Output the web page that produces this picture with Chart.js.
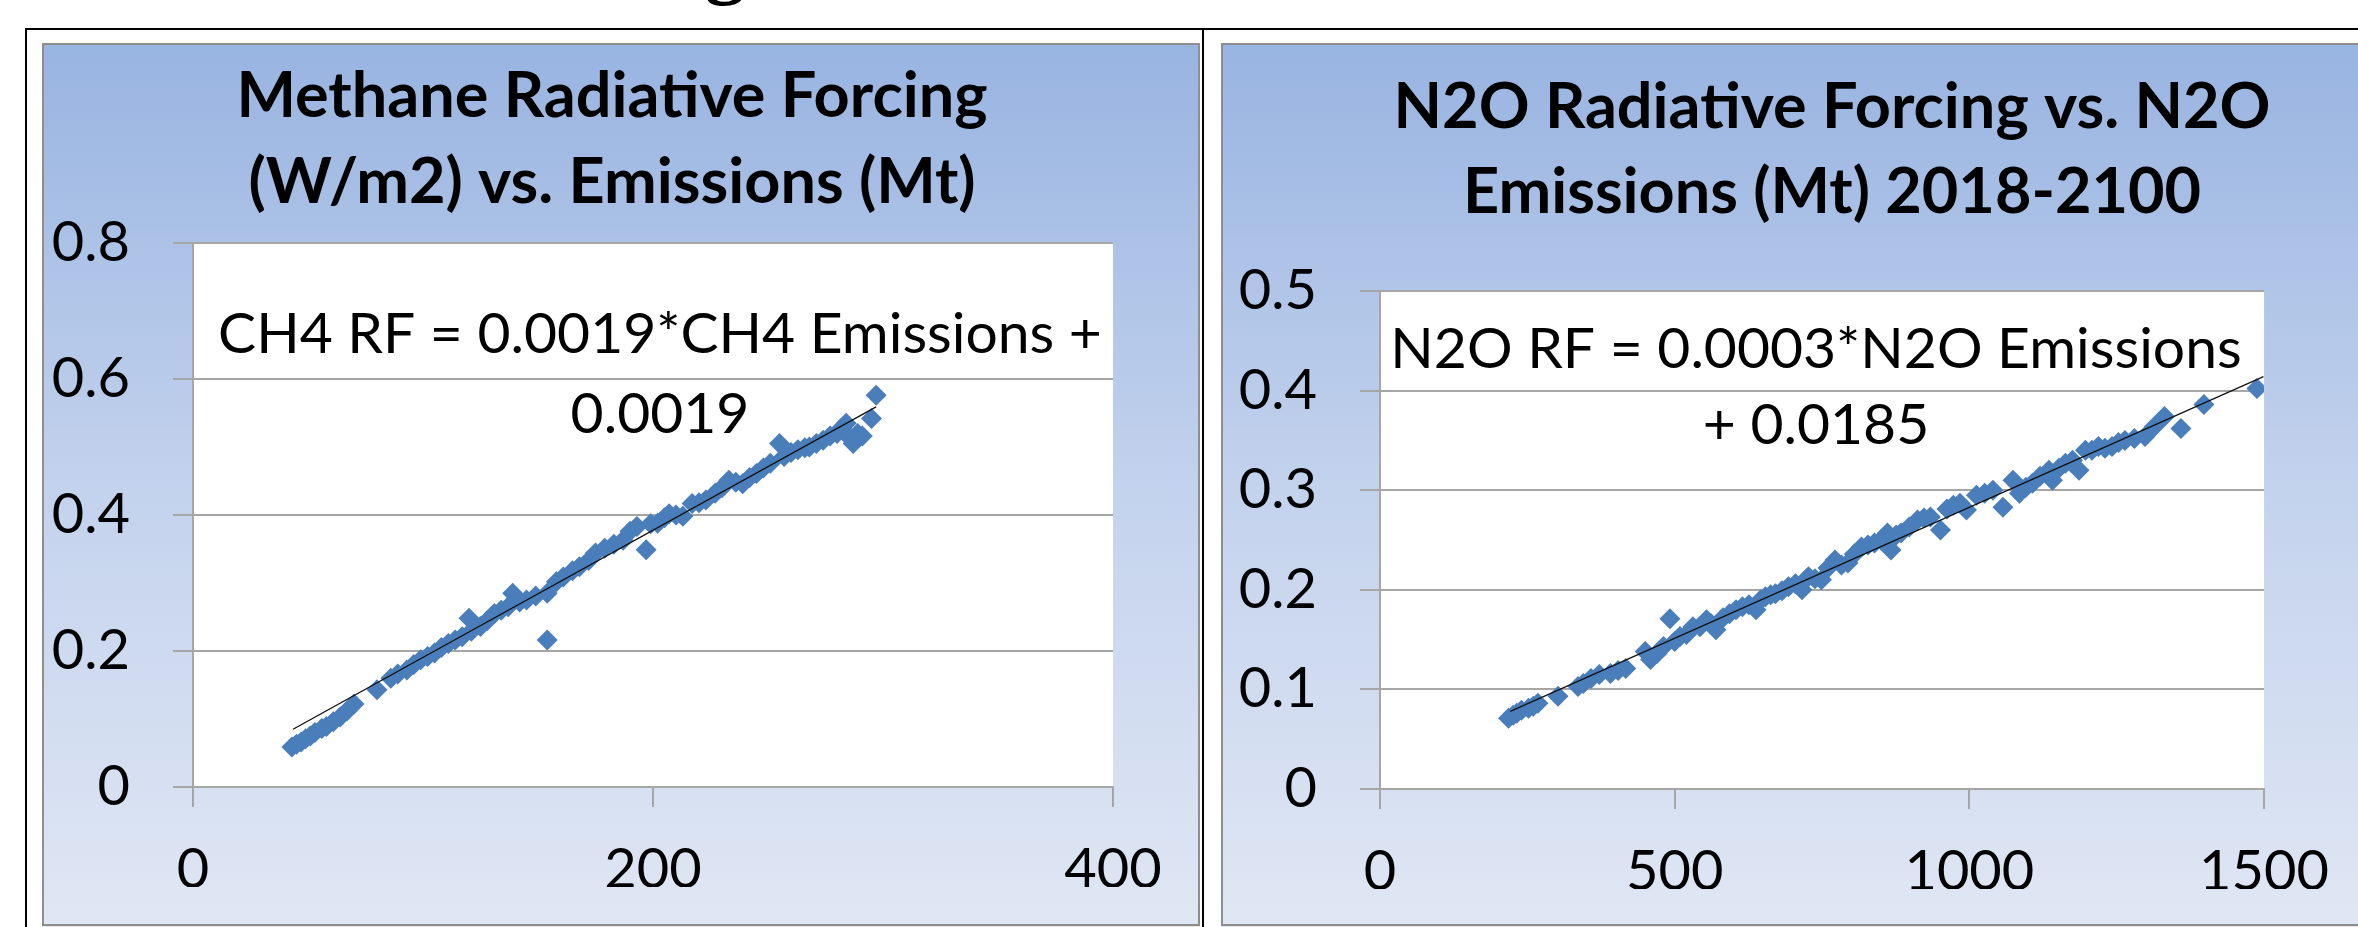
<!DOCTYPE html>
<html><head><meta charset="utf-8">
<script src="https://cdn.jsdelivr.net/npm/chart.js@4.4.1/dist/chart.umd.min.js"></script>
<style>
html,body{margin:0;padding:0;background:#fff;width:2358px;height:927px;overflow:hidden;position:relative;}
.frame{position:absolute;background:#000;}
canvas{position:absolute;}
#gTop{position:absolute;left:705px;top:-78px;font:bold 80px/80px "Liberation Serif";color:#000;}
</style></head><body>
<div id="gTop">g</div>
<div class="frame" style="left:25px;top:28px;width:2333px;height:2px"></div>
<div class="frame" style="left:25px;top:28px;width:2px;height:899px"></div>
<div class="frame" style="left:1202px;top:28px;width:2px;height:899px"></div>
<canvas id="c1" width="1158" height="884" style="left:42px;top:43px"></canvas>
<canvas id="c2" width="1137" height="884" style="left:1221px;top:43px"></canvas>
<script>
// ---------- data ----------
const ch4Emissions = [43,45,47,49,51,53,56,58,61,64,67,70,80,86,89,93,96,99,102,105,108,111,114,117,120,121,125,128,131,134,137,139,142,145,149,154,154,158,161,165,168,172,175,179,183,187,190,193,197,199,202,205,207,210,213,217,220,223,227,230,233,236,239,242,245,248,251,255,257,260,263,266,268,271,274,277,280,282,284,286,287,289,291,295,297];
const ch4Forcing   = [0.059,0.063,0.066,0.071,0.075,0.080,0.086,0.089,0.096,0.103,0.112,0.122,0.143,0.160,0.166,0.172,0.180,0.187,0.192,0.197,0.205,0.211,0.216,0.221,0.248,0.229,0.236,0.245,0.255,0.260,0.265,0.285,0.272,0.275,0.281,0.285,0.216,0.302,0.309,0.318,0.324,0.333,0.344,0.351,0.357,0.363,0.376,0.383,0.349,0.387,0.388,0.396,0.402,0.400,0.398,0.417,0.418,0.422,0.432,0.440,0.451,0.448,0.446,0.455,0.461,0.469,0.476,0.505,0.486,0.492,0.496,0.499,0.500,0.505,0.510,0.516,0.520,0.528,0.535,0.512,0.505,0.520,0.516,0.542,0.576];
const ch4TrendX = [43.5, 297];
const ch4TrendY = [0.085, 0.559];

const n2oEmissions = [218,226,232,240,252,260,268,302,336,345,358,372,391,404,417,450,459,470,481,492,500,509,520,531,543,554,562,570,582,593,604,615,626,638,646,654,663,671,682,693,705,716,727,738,749,760,772,783,794,805,817,828,839,850,861,867,876,884,898,912,923,934,951,962,973,984,995,1012,1026,1040,1057,1074,1085,1096,1107,1120,1135,1141,1152,1163,1175,1186,1197,1208,1219,1230,1242,1253,1264,1280,1298,1314,1331,1359,1398,1488];
const n2oForcing   = [0.071,0.074,0.076,0.079,0.081,0.083,0.086,0.093,0.103,0.106,0.111,0.115,0.116,0.119,0.121,0.138,0.130,0.136,0.143,0.171,0.148,0.153,0.155,0.163,0.163,0.170,0.166,0.160,0.172,0.176,0.180,0.183,0.185,0.180,0.190,0.193,0.195,0.196,0.199,0.203,0.206,0.200,0.213,0.211,0.210,0.222,0.230,0.225,0.227,0.236,0.243,0.245,0.247,0.250,0.257,0.240,0.255,0.257,0.263,0.270,0.272,0.273,0.260,0.281,0.285,0.287,0.280,0.295,0.297,0.300,0.283,0.310,0.297,0.303,0.307,0.314,0.320,0.310,0.322,0.327,0.330,0.320,0.340,0.340,0.344,0.342,0.344,0.348,0.350,0.352,0.354,0.364,0.374,0.362,0.386,0.402];
const n2oTrendX = [221, 1499];
const n2oTrendY = [0.078, 0.414];

const ch4XTicks = [0, 200, 400];
const ch4YTicks = [0, 0.2, 0.4, 0.6, 0.8];
const n2oXTicks = [0, 500, 1000, 1500];
const n2oYTicks = [0, 0.1, 0.2, 0.3, 0.4, 0.5];

const ch4Title = ['Methane Radiative Forcing', '(W/m2) vs. Emissions (Mt)'];
const ch4Equation = ['CH4 RF = 0.0019*CH4 Emissions +', '0.0019'];
const n2oTitle = ['N2O Radiative Forcing vs. N2O', 'Emissions (Mt) 2018-2100'];
const n2oEquation = ['N2O RF = 0.0003*N2O Emissions', '+ 0.0185'];

// ---------- helpers ----------
const GRID = '#a6a6a6';
const MARK = '#4a7ebb';
const FONT = 'Lato';

function toPoints(xs, ys){ return xs.map((x,i)=>({x:x, y:ys[i]})); }

function panelPlugin(cfg){
  return {
    id:'panel',
    beforeDraw(chart){
      const {ctx, width, height, chartArea:a} = chart;
      ctx.save();
      const g = ctx.createLinearGradient(0,0,0,height);
      g.addColorStop(0,'#98b4e1');
      g.addColorStop(0.5,'#c3d2ed');
      g.addColorStop(1,'#e0e7f4');
      ctx.fillStyle = g;
      ctx.fillRect(0,0,width,height);
      ctx.strokeStyle = '#8e8e8e';
      ctx.lineWidth = 2;
      ctx.strokeRect(1,1,width-2+(cfg.openRight?20:0),height-3);
      ctx.fillStyle = '#fff';
      ctx.fillRect(a.left,a.top,a.right-a.left,a.bottom-a.top);
      ctx.restore();
    },
    afterDraw(chart){
      const ctx = chart.ctx;
      ctx.save();
      ctx.fillStyle = '#000';
      ctx.textAlign = 'center';
      ctx.textBaseline = 'alphabetic';
      ctx.font = 'bold 63px ' + FONT;
      cfg.title.forEach((t,i)=>ctx.fillText(t, cfg.titleX, cfg.titleY[i]));
      ctx.font = '57px ' + FONT;
      cfg.eq.forEach((t,i)=>ctx.fillText(t, cfg.eqX, cfg.eqY[i]));
      ctx.restore();
    }
  };
}

function makeChart(id, pts, trend, xr, yr, xTicks, yTicks, pad, yWidth, cfg){
  return new Chart(document.getElementById(id), {
    type:'scatter',
    data:{datasets:[
      {type:'scatter', data:trend, showLine:true, borderColor:'#111', borderWidth:1.3, pointRadius:0, fill:false, tension:0},
      {type:'scatter', data:pts, pointStyle:'rectRot', pointRadius:10.5, backgroundColor:MARK, borderWidth:0, pointHoverRadius:10.5}
    ]},
    options:{
      responsive:false, animation:false, events:[],
      layout:{padding:pad},
      plugins:{legend:{display:false}, tooltip:{enabled:false}, title:{display:false}},
      scales:{
        x:{type:'linear', min:xr[0], max:xr[1],
          afterBuildTicks:s=>{ s.ticks = xTicks.map(v=>({value:v})); },
          afterFit:s=>{ s.height = 100; },
          grid:{drawOnChartArea:false, drawTicks:true, tickLength:20, color:GRID, lineWidth:2},
          border:{display:true, color:GRID, width:2},
          ticks:{font:{family:FONT,size:56}, color:'#000', padding:29, maxRotation:0, autoSkip:false, callback:v=>String(v)}
        },
        y:{type:'linear', min:yr[0], max:yr[1],
          afterBuildTicks:s=>{ s.ticks = yTicks.map(v=>({value:v})); },
          afterFit:s=>{ s.width = yWidth; },
          grid:{drawOnChartArea:true, drawTicks:true, tickLength:20, color:GRID, lineWidth:2},
          border:{display:true, color:GRID, width:2},
          ticks:{font:{family:FONT,size:56}, color:'#000', padding:43, autoSkip:false, callback:v=>String(v)}
        }
      }
    },
    plugins:[panelPlugin(cfg)]
  });
}

function draw(){
  makeChart('c1', toPoints(ch4Emissions, ch4Forcing), toPoints(ch4TrendX, ch4TrendY),
    [0,400], [0,0.8], ch4XTicks, ch4YTicks,
    {left:0, top:200, right:87, bottom:40}, 151,
    {title:ch4Title, titleX:570, titleY:[74,160], eq:ch4Equation, eqX:618, eqY:[310,390], openRight:false});
  makeChart('c2', toPoints(n2oEmissions, n2oForcing), toPoints(n2oTrendX, n2oTrendY),
    [0,1500], [0,0.5], n2oXTicks, n2oYTicks,
    {left:0, top:248, right:83, bottom:38}, 159,
    {title:n2oTitle, titleX:611, titleY:[85,170], eq:n2oEquation, eqX:595, eqY:[325,401], openRight:true});
}

if (document.fonts && document.fonts.load) {
  Promise.all([document.fonts.load('56px Lato'), document.fonts.load('bold 63px Lato')]).then(draw, draw);
} else { draw(); }
</script>
</body></html>
